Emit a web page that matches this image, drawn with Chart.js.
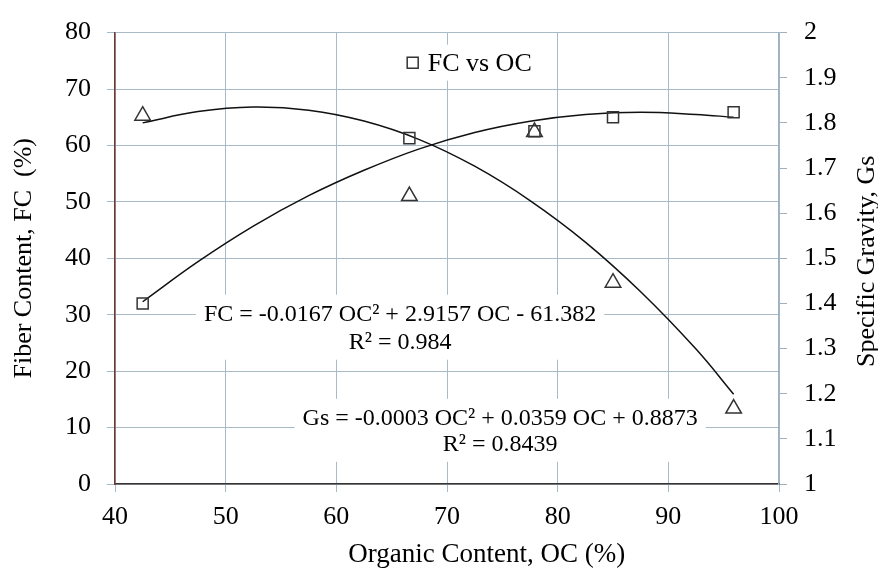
<!DOCTYPE html>
<html>
<head>
<meta charset="utf-8">
<script src="https://cdn.jsdelivr.net/npm/chart.js@4.4.0/dist/chart.umd.min.js"></script>
<style>
  html, body { margin: 0; padding: 0; background: #fff; }
  #wrap { width: 878px; height: 572px; }
</style>
</head>
<body>
<div id="wrap"><canvas id="myChart"></canvas></div>
<script>
// measured points
var ocValues = [42.5, 66.6, 77.9, 85.0, 95.9];
var fcValues = [32.0, 61.3, 62.5, 65.0, 65.9];
var gsValues = [1.816, 1.638, 1.78, 1.446, 1.167];

// trend curves
var trendOc = [42.5, 47.5, 52.5, 57.5, 62.5, 67.5, 72.5, 77.5, 82.5, 87.5, 92.5, 95.9];
var fcTrend = [32.3, 39.4, 45.7, 51.1, 55.6, 59.4, 62.3, 64.3, 65.5, 65.9, 65.5, 65.0];
var gsTrend = [1.800, 1.825, 1.835, 1.828, 1.804, 1.763, 1.704, 1.628, 1.536, 1.426, 1.299, 1.199];

var legendText = 'FC vs OC';
var fcEquation = ['FC = -0.0167 OC\u00b2 + 2.9157 OC - 61.382', 'R\u00b2 = 0.984'];
var gsEquation = ['Gs = -0.0003 OC\u00b2 + 0.0359 OC + 0.8873', 'R\u00b2 = 0.8439'];
var xTitle = 'Organic Content, OC (%)';
var yTitle = 'Fiber Content, FC  (%)';
var y2Title = 'Specific Gravity, Gs';

var serif = '"Liberation Serif", "Times New Roman", serif';
var gridColor = '#a9bac7';

Chart.defaults.font.family = serif;
Chart.defaults.color = '#000';

function pts(xs, ys) {
  return xs.map(function (v, i) { return { x: v, y: ys[i] }; });
}

// white label boxes + the little legend
var notesPlugin = {
  id: 'notes',
  beforeDatasetsDraw: function (chart) {
    var ctx = chart.ctx;
    var x = chart.scales.x, y = chart.scales.y;
    var notes = [
      { lines: fcEquation, x: 65.76, y: 30.0, gap: 28 },
      { lines: gsEquation, x: 74.8, y: 11.55, gap: 26 }
    ];
    ctx.save();
    ctx.font = '24px ' + serif;
    ctx.textAlign = 'center';
    ctx.textBaseline = 'middle';
    notes.forEach(function (n) {
      var cx = x.getPixelForValue(n.x);
      var cy = y.getPixelForValue(n.y);
      var w = 0;
      n.lines.forEach(function (t) { w = Math.max(w, ctx.measureText(t).width); });
      var bottom = cy + n.gap * (n.lines.length - 1) + 17;
      ctx.fillStyle = '#fff';
      ctx.fillRect(cx - w / 2 - 8, cy - 20, w + 16, bottom - (cy - 20));
      ctx.fillStyle = '#000';
      n.lines.forEach(function (t, i) { ctx.fillText(t, cx, cy + i * n.gap); });
    });

    // legend
    ctx.font = '26px ' + serif;
    ctx.textAlign = 'left';
    var mx = x.getPixelForValue(66.9);
    var my = y.getPixelForValue(74.66);
    var tw = ctx.measureText(legendText).width;
    ctx.fillStyle = '#fff';
    ctx.fillRect(mx - 12, my - 18, tw + 40, 36);
    ctx.strokeStyle = '#333';
    ctx.lineWidth = 1.5;
    ctx.strokeRect(mx - 5.5, my - 5.5, 11, 11);
    ctx.fillStyle = '#000';
    ctx.fillText(legendText, mx + 15, my + 1);
    ctx.restore();
  },
  // axis titles drawn by hand: x title sits right of centre, right title reads upward
  afterDraw: function (chart) {
    var ctx = chart.ctx;
    var area = chart.chartArea;
    ctx.save();
    ctx.fillStyle = '#000';
    ctx.textAlign = 'center';
    ctx.textBaseline = 'middle';
    ctx.font = '27px ' + serif;
    ctx.fillText(xTitle, area.left + area.width * 0.56, 555);
    ctx.font = '26px ' + serif;
    ctx.translate(chart.width - 11, (area.top + area.bottom) / 2 + 3);
    ctx.rotate(-Math.PI / 2);
    ctx.fillText(y2Title, 0, 0);
    ctx.restore();
  }
};

var data = {
  datasets: [
    {
      label: 'FC vs OC',
      data: pts(ocValues, fcValues),
      yAxisID: 'y',
      pointStyle: 'rect',
      pointRadius: 7.8,
      borderColor: '#333',
      backgroundColor: 'rgba(0,0,0,0)',
      borderWidth: 1.5
    },
    {
      label: 'Gs vs OC',
      data: pts(ocValues, gsValues),
      yAxisID: 'y2',
      pointStyle: 'triangle',
      pointRadius: 9,
      borderColor: '#333',
      backgroundColor: 'rgba(0,0,0,0)',
      borderWidth: 1.5
    },
    {
      label: 'FC trend',
      data: pts(trendOc, fcTrend),
      yAxisID: 'y',
      showLine: true,
      pointRadius: 0,
      borderColor: '#111',
      borderWidth: 1.5,
      tension: 0.4
    },
    {
      label: 'Gs trend',
      data: pts(trendOc, gsTrend),
      yAxisID: 'y2',
      showLine: true,
      pointRadius: 0,
      borderColor: '#111',
      borderWidth: 1.5,
      tension: 0.4
    }
  ]
};

var config = {
  type: 'scatter',
  data: data,
  plugins: [notesPlugin],
  options: {
    responsive: true,
    maintainAspectRatio: false,
    animation: false,
    events: [],
    layout: { padding: { top: 20, right: 0, bottom: 0, left: 0 } },
    plugins: {
      legend: { display: false },
      tooltip: { enabled: false }
    },
    scales: {
      x: {
        type: 'linear',
        position: 'bottom',
        min: 40,
        max: 100,
        ticks: { stepSize: 10, padding: 10, font: { size: 26 } },
        grid: { color: gridColor, tickLength: 8 },
        border: { color: '#3b3333', width: 1.5 },
        afterFit: function (s) { s.height = 88; }
      },
      y: {
        position: 'left',
        min: 0,
        max: 80,
        ticks: { stepSize: 10, padding: 16, font: { size: 26 } },
        grid: { color: gridColor, tickLength: 8 },
        border: { color: '#74392e', width: 1.5 },
        title: {
          display: true,
          text: yTitle,
          font: { size: 26, lineHeight: 1 },
          padding: { top: 11, bottom: 0 }
        },
        afterFit: function (s) { s.width = 115; }
      },
      y2: {
        position: 'right',
        min: 1,
        max: 2,
        ticks: {
          stepSize: 0.1,
          padding: 17,
          font: { size: 26 },
          callback: function (v) { return String(Math.round(v * 10) / 10); }
        },
        grid: { drawOnChartArea: false, tickLength: 8, tickColor: '#9fb0bf' },
        border: { color: '#9fb0bf', width: 1.5 },
        afterFit: function (s) { s.width = 99; }
      }
    }
  }
};

var myChart = new Chart(document.getElementById('myChart'), config);
</script>
</body>
</html>
